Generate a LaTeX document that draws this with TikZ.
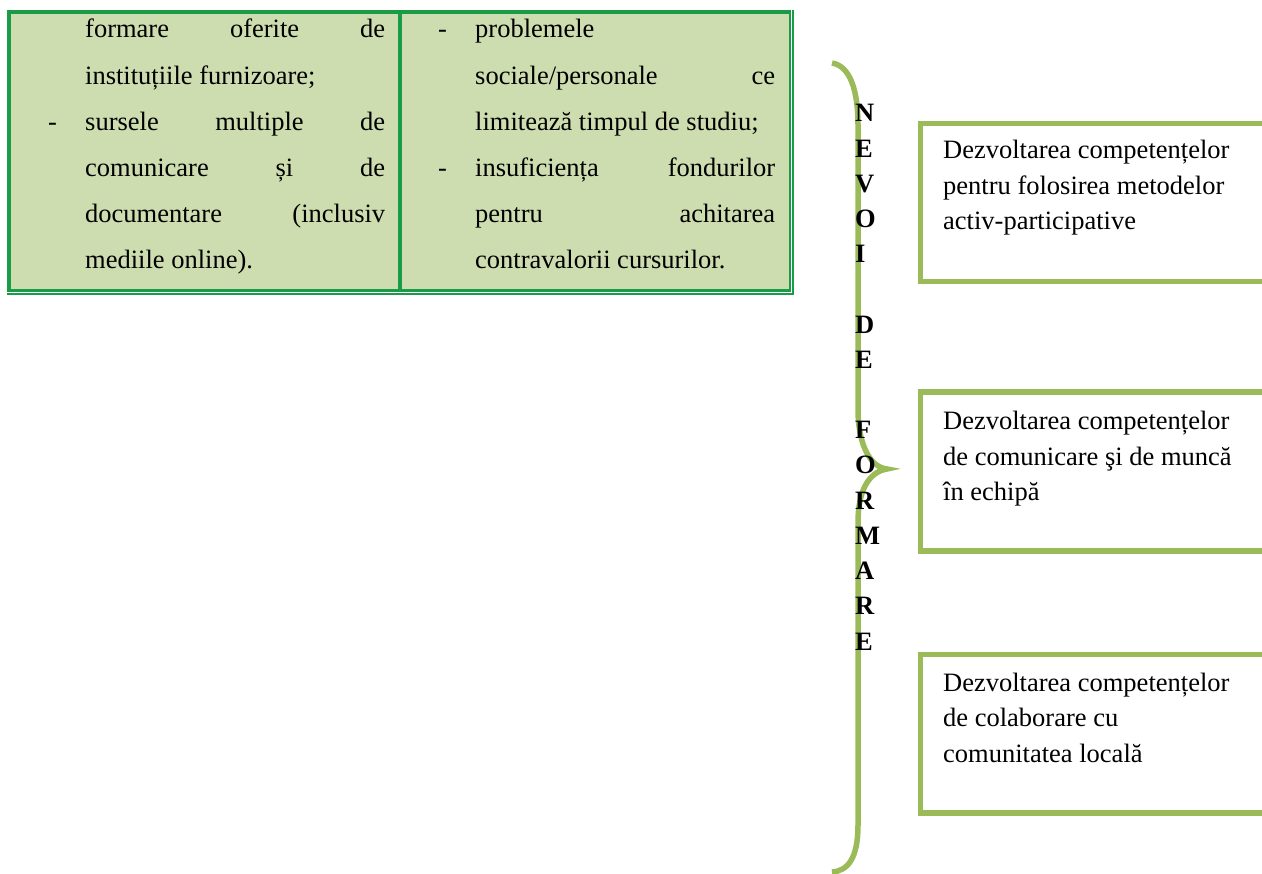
\documentclass[tikz,border=0pt]{standalone}
\usepackage{fontspec}
\setmainfont{Liberation Serif}
\definecolor{tabgreen}{RGB}{26,155,72}
\definecolor{tabfill}{RGB}{206,221,175}
\definecolor{boxgreen}{RGB}{155,187,89}
\newcommand\tf{\fontsize{26.5}{30}\selectfont}
\newcommand\jl[1]{\makebox[300pt][s]{#1}}
\tikzset{
  txt/.style={anchor=base west, inner sep=0pt, font=\tf},
  letter/.style={anchor=base west, inner sep=0pt, font=\tf\bfseries},
  bracestroke/.style={draw=boxgreen, line width=5.5pt},
  boxline/.style={draw=boxgreen, line width=5.5pt},
}
\begin{document}
\begin{tikzpicture}[x=1pt,y=-1pt]
\useasboundingbox (0,0) rectangle (1262,874);
\clip (0,0) rectangle (1262,874);
% table
\fill[tabfill] (11,14) rectangle (789,289);
\draw[tabgreen, line width=4pt] (9,10) -- (9,292);
\draw[tabgreen, line width=4pt] (7,12) -- (791,12);
\draw[tabgreen, line width=2pt] (790,10) -- (790,292);
\draw[tabgreen, line width=3pt] (7,290.5) -- (791,290.5);
\draw[tabgreen, line width=2pt] (793,10) -- (793,295);
\draw[tabgreen, line width=2pt] (7,294) -- (794,294);
\draw[tabgreen, line width=3.5pt] (400,12) -- (400,290);
% left cell
\node[txt] (a1) at (85,38) {\jl{formare oferite de}};
\node[txt] (a2) at (85,84.2) {instituțiile furnizoare;};
\node[txt] (ad) at (48,130.4) {-};
\node[txt] (a3) at (85,130.4) {\jl{sursele multiple de}};
\node[txt] (a4) at (85,176.6) {\jl{comunicare și de}};
\node[txt] (a5) at (85,222.8) {\jl{documentare (inclusiv}};
\node[txt] (a6) at (85,269) {mediile online).};
% right cell
\node[txt] (bd1) at (438,38) {-};
\node[txt] (b1) at (475,38) {problemele};
\node[txt] (b2) at (475,84.2) {\jl{sociale/personale ce}};
\node[txt] (b3) at (475,130.4) {limitează timpul de studiu;};
\node[txt] (bd2) at (438,176.6) {-};
\node[txt] (b4) at (475,176.6) {\jl{insuficiența fondurilor}};
\node[txt] (b5) at (475,222.8) {\jl{pentru achitarea}};
\node[txt] (b6) at (475,269) {contravalorii cursurilor.};
% brace
\draw[bracestroke] (832,63) .. controls (850,66) and (858,90) .. (858,125)
  -- (858,410) .. controls (858,440) and (868,467) .. (887,469)
  .. controls (868,472) and (858,492) .. (858,522)
  -- (858,825) .. controls (858,858) and (848,871) .. (832,872);
% letters
\foreach \c/\i in {N/0,E/1,V/2,O/3,I/4,D/6,E/7,F/9,O/10,R/11,M/12,A/13,R/14,E/15}
  \node[letter] (l\i) at (855,{122+35.2*\i}) {\c};
% boxes
\draw[boxline] (920.5,123.5) rectangle (1280,281.5);
\draw[boxline] (920.5,392) rectangle (1280,551);
\draw[boxline] (920.5,654.5) rectangle (1280,813);
\node[txt] (c1) at (943,159) {Dezvoltarea competențelor};
\node[txt] (c2) at (943,194.5) {pentru folosirea metodelor};
\node[txt] (c3) at (943,230) {activ-participative};
\node[txt] (d1) at (943,430) {Dezvoltarea competențelor};
\node[txt] (d2) at (943,465.5) {de comunicare şi de muncă};
\node[txt] (d3) at (943,501) {în echipă};
\node[txt] (e1) at (943,691) {Dezvoltarea competențelor};
\node[txt] (e2) at (943,726.5) {de colaborare cu};
\node[txt] (e3) at (943,762) {comunitatea locală};
\end{tikzpicture}
\end{document}
